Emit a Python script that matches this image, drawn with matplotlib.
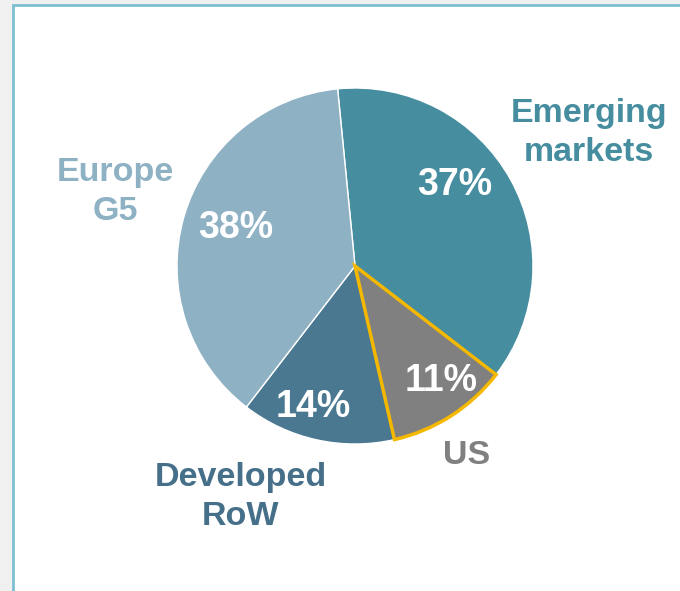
import matplotlib.pyplot as plt
from matplotlib.patches import Rectangle

plt.rcParams['font.family'] = ['Liberation Sans', 'DejaVu Sans']

# -------------------------- DATA ----------------------------
categories = ["Emerging\nmarkets", "US", "Developed\nRoW", "Europe\nG5"]
shares = [37, 11, 14, 38]
slice_colors = ["#468e9f", "#808080", "#4a7891", "#8eb1c4"]
label_colors = ["#468e9f", "#808080", "#466f89", "#8eb1c4"]

# label placement in pixel coords (x, y from top)
label_pos = [(589, 133), (467, 456), (241, 497), (115, 192)]
pct_pos = [(455, 185), (441, 381), (313, 407), (236, 228)]

W, H = 680, 591
fig = plt.figure(figsize=(W / 100, H / 100), dpi=100)
fig.patch.set_facecolor("#f0f0f0")
ax = fig.add_axes([0, 0, 1, 1])
ax.set_xlim(0, W)
ax.set_ylim(0, H)
ax.set_aspect("equal")
ax.axis("off")

# white panel with light blue frame
ax.add_patch(Rectangle((13, -10), W + 20, H - 5 + 10, facecolor="white",
                       edgecolor="#7cc0d1", linewidth=2, zorder=0))

wedges, _ = ax.pie(shares, colors=slice_colors, startangle=95.6, counterclock=False,
                   center=(355, H - 266), radius=178,
                   wedgeprops=dict(edgecolor="white", linewidth=1))
wedges[1].set_edgecolor("#f5b800")
wedges[1].set_linewidth(2.5)
wedges[1].set_zorder(3)

for name, col, (x, y) in zip(categories, label_colors, label_pos):
    ax.text(x, H - y, name, color=col, fontsize=24.5, fontweight="bold",
            ha="center", va="center", linespacing=1.3)

for s, (x, y) in zip(shares, pct_pos):
    ax.text(x, H - y, f"{s}%", color="white", fontsize=27, fontweight="bold",
            ha="center", va="center", zorder=5)

ax.set_xlim(0, W)
ax.set_ylim(0, H)
fig.savefig("out.png", dpi=100, facecolor=fig.get_facecolor())
